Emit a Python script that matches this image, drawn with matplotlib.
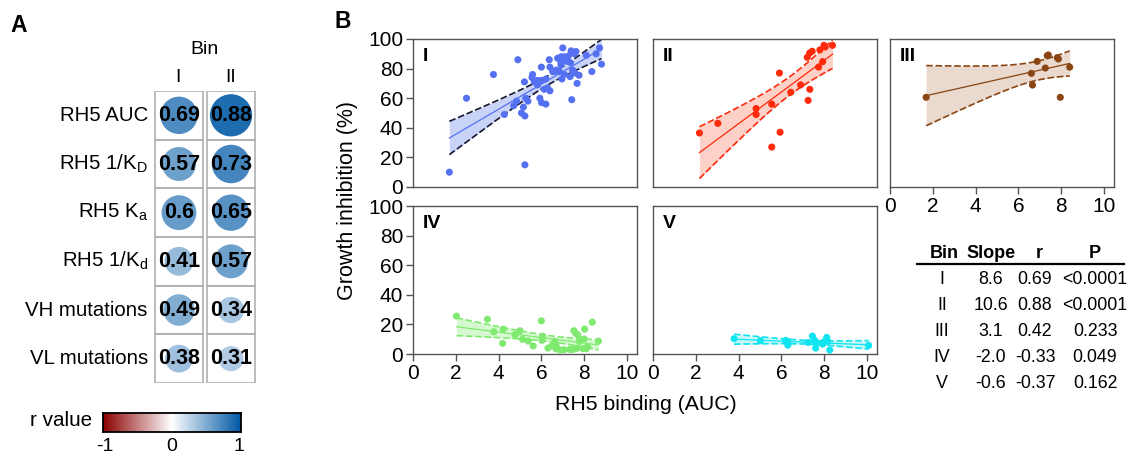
import numpy as np
import matplotlib
matplotlib.use('Agg')
import matplotlib.pyplot as plt
from matplotlib.colors import LinearSegmentedColormap

plt.rcParams['font.family'] = ['Liberation Sans', 'DejaVu Sans']
plt.rcParams['mathtext.fontset'] = 'custom'
plt.rcParams['mathtext.rm'] = 'Liberation Sans'
plt.rcParams['mathtext.it'] = 'Liberation Sans:italic'

# panel A: correlation of binding features with growth inhibition
features = ['RH5 AUC', 'RH5 1/K$_\\mathrm{D}$', 'RH5 K$_\\mathrm{a}$',
            'RH5 1/K$_\\mathrm{d}$', 'VH mutations', 'VL mutations']
r_bin1 = [0.69, 0.57, 0.6, 0.41, 0.49, 0.38]
r_bin2 = [0.88, 0.73, 0.65, 0.57, 0.34, 0.31]
r_labels1 = ['0.69', '0.57', '0.6', '0.41', '0.49', '0.38']
r_labels2 = ['0.88', '0.73', '0.65', '0.57', '0.34', '0.31']

# panel B: RH5 binding (AUC) vs growth inhibition (%)
x1 = [1.7, 2.5, 3.76, 4.9, 4.27, 4.71, 4.84, 5.23, 5.07, 5.23, 5.16, 5.27, 5.37, 5.21,
      5.59, 5.56, 5.67, 5.82, 5.93, 6.01, 6.21, 6.0, 6.0, 6.13, 6.29, 6.4, 6.37, 6.4,
      6.6, 6.7, 6.76, 6.92, 7.0, 7.07, 6.96, 7.07, 7.15, 7.26, 7.36, 7.39, 7.42, 7.46,
      7.54, 7.62, 7.57, 7.67, 7.76, 7.34, 8.1, 8.36, 8.56, 8.72, 8.81, 6.92, 6.84,
      7.2, 6.92, 6.53, 6.21, 5.82]
y1 = [10, 60, 76, 86, 49, 55, 58, 15, 50, 48, 54, 60, 58, 71,
      76, 74, 71, 69, 60, 57, 56, 81, 72, 66, 67, 65, 86, 81,
      78, 79, 87, 88, 94, 88, 73, 76, 85, 88.5, 84, 92, 59, 79,
      90, 91.5, 77, 70, 75.5, 74.6, 89, 78, 90, 94, 83, 82.5, 78,
      86, 84, 78, 73, 72]
x2 = [2.17, 3.03, 4.82, 4.82, 5.55, 5.91, 5.94, 5.55, 6.44, 6.9, 7.33, 7.25, 7.21,
      7.32, 7.44, 7.74, 7.93, 7.8, 7.99, 8.05, 8.39]
y2 = [36.5, 43, 53, 49, 56, 77, 37, 27, 64, 69, 66, 58.5, 87.6,
      90.5, 91.7, 81, 84.7, 92.6, 95.7, 94.6, 95.7]
x3 = [1.69, 6.61, 6.66, 6.88, 7.26, 7.35, 7.4, 7.82, 7.87, 7.96, 8.4]
y3 = [60.6, 76.8, 68.9, 84.9, 80.4, 88.7, 89.2, 87.4, 86.5, 60.6, 81]
x4 = [2.03, 3.48, 3.78, 4.22, 4.19, 4.77, 5.0, 5.12, 5.39, 5.62, 6.0, 6.06, 6.03,
      6.31, 6.48, 6.63, 6.69, 6.88, 6.69, 7.33, 7.48, 7.52, 7.61, 7.7, 7.66, 7.84,
      8.0, 8.02, 7.95, 8.1, 8.16, 8.38, 8.67, 7.77, 7.06]
y4 = [25.6, 23.5, 15, 16.8, 7.2, 13, 15.7, 9.9, 8.7, 5.4, 22.4, 12.1, 9.2,
      4, 5.4, 8.3, 3.4, 2.7, 5.8, 3.1, 3.1, 15.7, 13.9, 13, 3.8, 9.9,
      10.1, 16.8, 3.6, 3.6, 4.9, 21.5, 8.7, 8.5, 2.9]
x5 = [3.79, 5.02, 6.2, 6.3, 6.3, 7.25, 7.45, 7.56, 7.6, 7.64, 7.93, 8.12, 8.17,
      8.26, 10.08, 8.0]
y5 = [10.3, 9, 9.2, 6, 8.5, 7.8, 12.1, 9.2, 4, 7.4, 6.7, 11.2, 8.5,
      2.7, 5.8, 8.3]

bins = ['I', 'II', 'III', 'IV', 'V']
slopes = ['8.6', '10.6', '3.1', '-2.0', '-0.6']
r_vals = ['0.69', '0.88', '0.42', '-0.33', '-0.37']
p_vals = ['<0.0001', '<0.0001', '0.233', '0.049', '0.162']

W, H = 1127, 454


def frac(left, top, width, height):  # pixel box -> figure fraction
    return [left / W, 1 - (top + height) / H, width / W, height / H]


def fit_band(x, y):  # linear fit and 95% confidence band
    x, y = np.asarray(x), np.asarray(y)
    n = len(x)
    b, a = np.polyfit(x, y, 1)
    xs = np.linspace(x.min(), x.max(), 100)
    yh = a + b * xs
    s = np.sqrt(np.sum((y - (a + b * x)) ** 2) / (n - 2))
    sxx = np.sum((x - x.mean()) ** 2)
    df, z = n - 2, 1.96
    t = z + (z ** 3 + z) / (4 * df) + (5 * z ** 5 + 16 * z ** 3 + 3 * z) / (96 * df ** 2)
    half = t * s * np.sqrt(1 / n + (xs - x.mean()) ** 2 / sxx)
    return xs, yh, yh - half, yh + half


fig = plt.figure(figsize=(W / 100, H / 100), dpi=100)

# ---- panel A ----
cmap = LinearSegmentedColormap.from_list('rv', ['#8b0000', '#ffffff', '#0058a6'])
axA = fig.add_axes(frac(154, 91, 102, 292))
nrow = len(features)
for c, vals, labs in [(0, r_bin1, r_labels1), (1, r_bin2, r_labels2)]:
    for i in range(nrow):
        axA.add_patch(plt.Rectangle((c - 0.47, i - 0.5), 0.94, 1, fill=False,
                                    ec='#b0b0b0', lw=1.2))
    axA.scatter([c] * nrow, range(nrow), s=np.array(vals) * 1050, c=vals, cmap=cmap,
                vmin=-1, vmax=1, edgecolors='none')
    for i in range(nrow):
        axA.text(c, i, labs[i], ha='center', va='center', fontsize=15.5,
                 fontweight='bold')
for i, f in enumerate(features):
    axA.text(-0.6, i, f, ha='right', va='center', fontsize=14.7)
axA.set_xlim(-0.48, 1.48)
axA.set_ylim(nrow - 0.5, -0.5)
axA.axis('off')

fig.text(10 / W, 1 - 25 / H, 'A', fontsize=16.5, fontweight='bold', va='center')
fig.text(205 / W, 1 - 50 / H, 'Bin', fontsize=14, ha='center', va='center')
fig.text(178 / W, 1 - 77 / H, 'I', fontsize=14, ha='center', va='center')
fig.text(231 / W, 1 - 77 / H, 'II', fontsize=14, ha='center', va='center')

axC = fig.add_axes(frac(103, 413, 138, 19))
grad = np.linspace(-1, 1, 256).reshape(1, -1)
axC.imshow(grad, cmap=cmap, aspect='auto', extent=[-1, 1, 0, 1])
axC.set_yticks([])
axC.set_xticks([-0.97, 0, 0.97])
axC.set_xticklabels(['-1', '0', '1'], fontsize=14)
axC.tick_params(axis='x', length=0, pad=4)
for sp in axC.spines.values():
    sp.set_linewidth(1.3)
fig.text(92 / W, 1 - 421 / H, 'r value', fontsize=14.9, ha='right', va='center')

# ---- panel B ----
fig.text(334 / W, 1 - 22 / H, 'B', fontsize=16.5, fontweight='bold', va='center')
boxes = [(413, 39), (653, 39), (890, 39), (413, 206), (653, 206)]
data = [(x1, y1), (x2, y2), (x3, y3), (x4, y4), (x5, y5)]
colors = ['#5571f2', '#ff2a0a', '#8b4513', '#80ea70', '#10e4f0']
fills = ['#c9d3f8', '#fdd0c8', '#ead9cf', '#d6f8d0', '#c6f6f8']
edges = ['#161630', '#ff2a0a', '#8b4513', '#80ea70', '#10e4f0']
for k, ((l, t), (xx, yy)) in enumerate(zip(boxes, data)):
    ax = fig.add_axes(frac(l, t, 224, 148))
    xs, yh, lo, hi = fit_band(xx, yy)
    ax.fill_between(xs, lo, hi, color=fills[k], lw=0, zorder=1)
    ax.plot(xs, lo, color=edges[k], ls=(0, (4, 1.6)), lw=1.2, zorder=2)
    ax.plot(xs, hi, color=edges[k], ls=(0, (4, 1.6)), lw=1.2, zorder=2)
    ax.plot(xs, yh, color=colors[k], lw=0.9, zorder=2)
    ax.scatter(xx, yy, s=26, color=colors[k], edgecolors='none', zorder=3)
    ax.text(0.045, 0.88, bins[k], transform=ax.transAxes, fontsize=14,
            fontweight='bold', va='center')
    ax.set_xlim(0, 10.47)
    ax.set_ylim(0, 100)
    for sp in ax.spines.values():
        sp.set_color('#555555')
        sp.set_linewidth(1.0)
    ax.tick_params(colors='#555555', labelcolor='black', labelsize=15, length=5,
                   width=1.0, pad=2)
    ax.set_xticks(range(0, 11, 2))
    ax.set_yticks(range(0, 101, 20))
    if k not in (0, 3):
        ax.tick_params(axis='y', left=False, labelleft=False)
    if k in (0, 1):
        ax.tick_params(axis='x', bottom=False, labelbottom=False)

fig.text(348 / W, 1 - 201 / H, 'Growth inhibition (%)', fontsize=15.5, rotation=90,
         ha='center', va='center')
fig.text(646 / W, 1 - 405 / H, 'RH5 binding (AUC)', fontsize=15.3, ha='center',
         va='center')

# summary table
cols_x = [942, 991, 1035, 1095]
heads = ['Bin', 'Slope', 'r', 'P']
head_x = [944, 991, 1039, 1095]
for hx, h in zip(head_x, heads):
    fig.text(hx / W, 1 - 253 / H, h, fontsize=13, fontweight='bold',
             ha='center', va='center')
fig.add_artist(plt.Line2D([917 / W, 1124 / W], [1 - 264 / H, 1 - 264 / H],
                          color='black', lw=1.6))
for i in range(len(bins)):
    yy = 1 - (279 + 26.2 * i) / H
    for cx, txt in zip(cols_x, [bins[i], slopes[i], r_vals[i], p_vals[i]]):
        fig.text(cx / W, yy, txt, fontsize=12.8, ha='center', va='center')

fig.savefig('out.png', dpi=100)
